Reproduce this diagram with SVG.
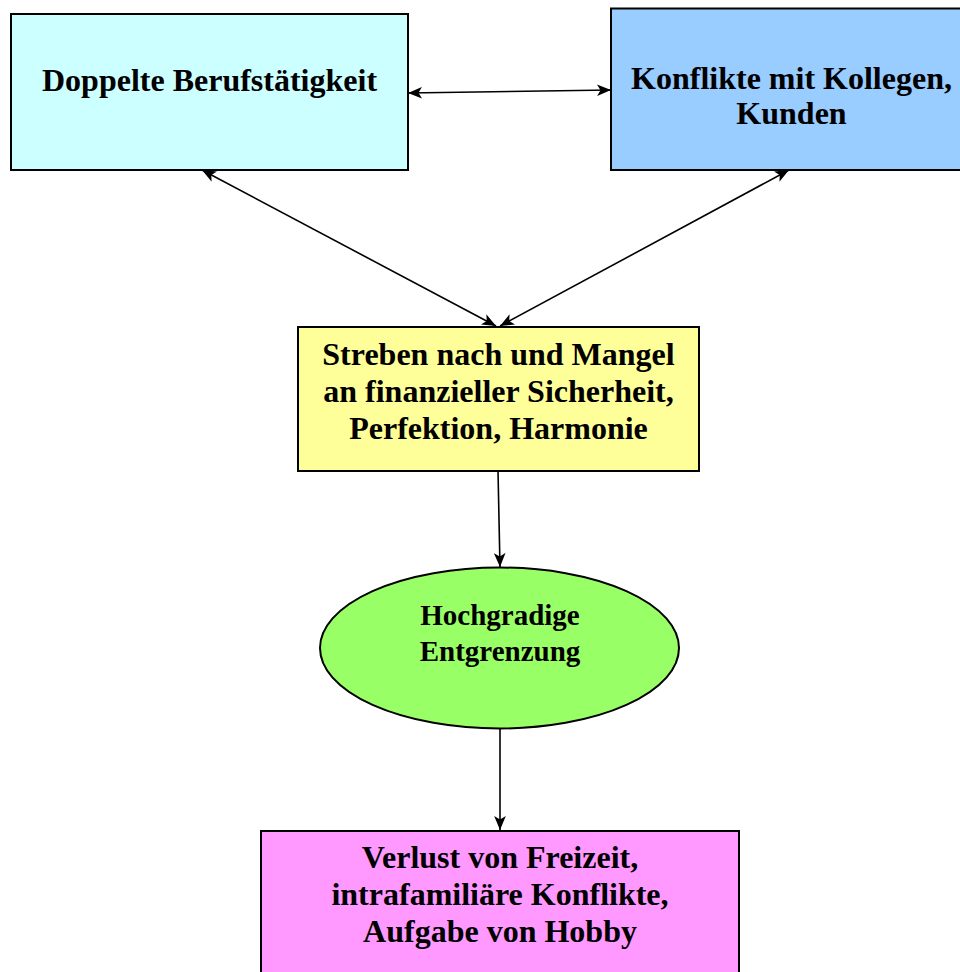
<svg xmlns="http://www.w3.org/2000/svg" width="960" height="972" viewBox="0 0 960 972">
  <style>
    .box { stroke: #000; stroke-width: 2; }
    .lbl { font-family: "Liberation Serif", "Times New Roman", serif; font-weight: bold; font-size: 32px; fill: #000; text-anchor: middle; }
    .small { font-size: 29px; }
    .conn { stroke: #000; stroke-width: 1.6; fill: none; }
  </style>
  <defs>
    <marker id="arrow" viewBox="0 0 12 10" refX="12" refY="5" markerWidth="14" markerHeight="12" markerUnits="userSpaceOnUse" orient="auto-start-reverse">
      <path d="M0,0 L12,5 L0,10 L3,5 Z" fill="#000"/>
    </marker>
  </defs>
  <rect width="960" height="972" fill="#fff"/>

  <g id="connectors">
    <line class="conn" x1="408" y1="93" x2="611" y2="90" stroke-width="2" marker-start="url(#arrow)" marker-end="url(#arrow)"/>
    <line class="conn" x1="202" y1="170" x2="496" y2="326" marker-start="url(#arrow)" marker-end="url(#arrow)"/>
    <line class="conn" x1="789" y1="170" x2="500" y2="326" marker-start="url(#arrow)" marker-end="url(#arrow)"/>
    <line class="conn" x1="498" y1="471" x2="500" y2="567" marker-end="url(#arrow)"/>
    <line class="conn" x1="500" y1="728" x2="500" y2="830" marker-end="url(#arrow)"/>
  </g>

  <g id="doppelte-berufstaetigkeit">
    <rect class="box" x="11" y="14" width="397" height="156" fill="#CCFFFF"/>
    <text class="lbl" x="209.5" y="91">Doppelte Berufstätigkeit</text>
  </g>

  <g id="konflikte-kollegen">
    <rect class="box" x="611" y="8.5" width="361" height="161.5" fill="#99CCFF"/>
    <text class="lbl" x="791.5" y="89">Konflikte mit Kollegen,</text>
    <text class="lbl" x="791.5" y="124">Kunden</text>
  </g>

  <g id="streben-mangel">
    <rect class="box" x="298" y="327" width="401" height="144" fill="#FFFF99"/>
    <text class="lbl" x="498.5" y="365">Streben nach und Mangel</text>
    <text class="lbl" x="498.5" y="402">an finanzieller Sicherheit,</text>
    <text class="lbl" x="498.5" y="439">Perfektion, Harmonie</text>
  </g>

  <g id="entgrenzung">
    <ellipse class="box" cx="499.5" cy="648" rx="179.5" ry="80.5" fill="#99FF66"/>
    <text class="lbl small" x="500" y="625">Hochgradige</text>
    <text class="lbl small" x="500" y="661">Entgrenzung</text>
  </g>

  <g id="verlust-freizeit">
    <rect class="box" x="261" y="831" width="478" height="150" fill="#FF99FF"/>
    <text class="lbl" x="500" y="868">Verlust von Freizeit,</text>
    <text class="lbl" x="500" y="905">intrafamiliäre Konflikte,</text>
    <text class="lbl" x="500" y="942">Aufgabe von Hobby</text>
  </g>
</svg>
